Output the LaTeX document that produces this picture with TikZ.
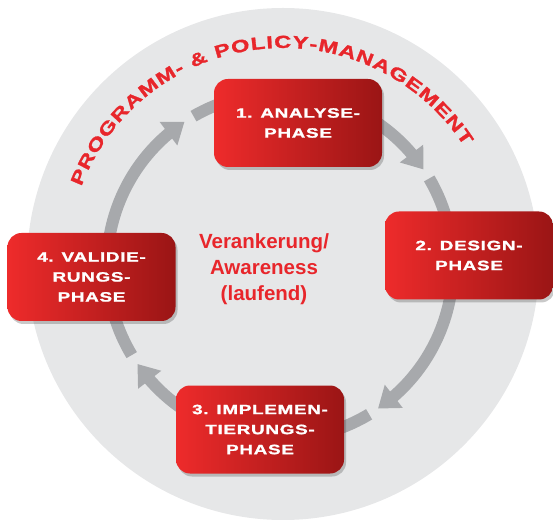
\documentclass[tikz,border=0pt]{standalone}
\usepackage{fontspec}
\setmainfont{Liberation Sans}
\newfontfamily\widefont{Liberation Sans}[FakeStretch=1.4, FakeBold=1.5, LetterSpace=5]
\newfontfamily\arcfont{Liberation Sans}[FakeStretch=1.35, FakeBold=1.5]
\usetikzlibrary{
    calc,
    shadows,
    arrows.meta,
    bending,
    decorations.text
    }
\definecolor{discgray}{HTML}{E6E7E8}
\definecolor{ringgray}{HTML}{A7A9AC}
\definecolor{redlight}{HTML}{EE2B2B}
\definecolor{reddark}{HTML}{9A1515}
\definecolor{textred}{HTML}{E8262B}

\begin{document}
\begin{tikzpicture}[x=1pt, y=1pt]
\tikzset{disc/.style =
        {
            fill=discgray,
            draw=none
        }
}

\tikzset{ring line/.style =
        {
            line width=12pt,
            ringgray
        }
}

\tikzset{ring arrow/.style =
        {
            ring line,
            -{Triangle[width=28pt, length=20pt, flex]}
        }
}

\tikzset{phase/.style =
        {
            shape=rectangle,
            rounded corners=14pt,
            minimum width=168pt,
            minimum height=88pt,
            left color=redlight,
            right color=reddark,
            drop shadow={shadow xshift=2pt, shadow yshift=-3pt, opacity=0.3, fill=black!70},
            align=center,
            text=white,
            font=\widefont\bfseries\fontsize{13.5}{20}\selectfont
        }
}

\tikzset{core text/.style =
        {
            align=center,
            text=textred,
            font=\bfseries\fontsize{20.5}{26}\selectfont
        }
}

		\useasboundingbox (0,0) rectangle (553,519);

		\coordinate (disc) at (283,255);
		\coordinate (hub) at (280,253);

		\fill[disc] (disc) circle [radius=256];

		\foreach \from / \tip / \to in
			{80/33.9/3,
				3/-55.5/-97,
				-97/-145.5/-177,
				183/123.5/80}
			{
				\pgfmathsetmacro\tail{\tip-3.5}
				\draw [ring arrow] ($(hub)+(\from:173)$) arc [start angle=\from, end angle=\tip, radius=173];
				\draw [ring line] ($(hub)+(\tail:173)$) arc [start angle=\tail, end angle=\to, radius=173];
			}

		\foreach \n / \x / \y / \txt in
			{1/298/396/{1. ANALYSE-\\PHASE},
				2/469/263.5/{2. DESIGN-\\PHASE},
				3/260/89.5/{3. IMPLEMEN-\\TIERUNGS-\\PHASE},
				4/91.5/242/{4. VALIDIE-\\RUNGS-\\PHASE}}
		\node[phase] (phase-\n) at (\x,\y) {\txt};

		\node[core text] (core) at (264,250) {Verankerung/\\Awareness\\(laufend)};

		\path [decorate,
			decoration={text along path,
				text color=textred,
				text align={fit to path},
				text={|\arcfont\bfseries\fontsize{17.5}{17.5}\selectfont|PROGRAMM- {\&} POLICY-MANAGEMENT}}]
		($(disc)+(159:216)$) arc [start angle=159, end angle=33, radius=216];

	\end{tikzpicture}
\end{document}
